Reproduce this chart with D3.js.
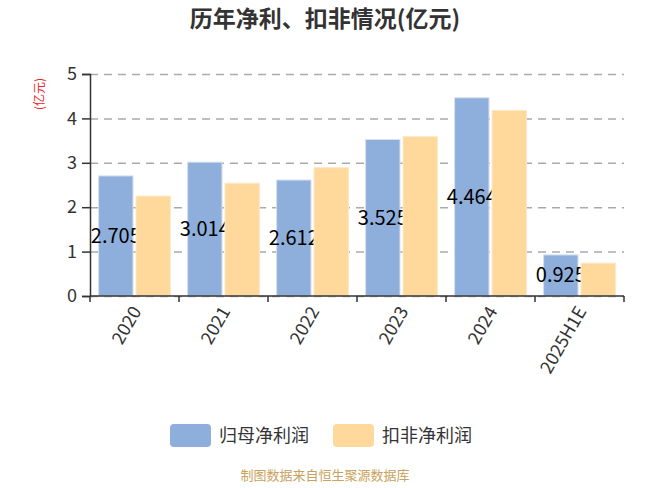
<!DOCTYPE html>
<html>
<head>
<meta charset="utf-8">
<script src="https://cdn.jsdelivr.net/npm/d3@7"></script>
<style>
    html, body { margin: 0; padding: 0; background: #fff; }
    #chart { width: 650px; height: 488px; }
    text { font-family: "Noto Sans CJK SC", "Noto Sans", sans-serif; }
</style>
</head>
<body>
<div id="chart"></div>
<script>
(function () {
    'use strict';

    // Annual net profit vs. deducted net profit (亿元)
    const categories = ['2020', '2021', '2022', '2023', '2024', '2025H1E'];
    const netProfit = [2.705, 3.014, 2.612, 3.525, 4.464, 0.925];       // 归母净利润
    const deductedProfit = [2.25, 2.54, 2.89, 3.59, 4.18, 0.74];        // 扣非净利润
    const seriesNames = ['归母净利润', '扣非净利润'];
    const yTicks = [0, 1, 2, 3, 4, 5];

    const COLORS = ['#8eaedb', '#fed99b'];
    const W = 650, H = 488;
    const margin = {top: 74, right: 26, bottom: 192, left: 90};
    const cW = W - margin.left - margin.right;
    const cH = H - margin.top - margin.bottom;

    const svg = d3.select('#chart').append('svg').attr('width', W).attr('height', H);

    // Title
    svg.append('text')
        .attr('x', W / 2).attr('y', 27)
        .attr('text-anchor', 'middle')
        .attr('font-size', '23px').attr('font-weight', 'bold').attr('fill', '#333')
        .text('历年净利、扣非情况(亿元)');

    const g = svg.append('g').attr('transform', `translate(${margin.left},${margin.top})`);

    const x = d3.scaleBand().domain(categories).range([0, cW]).paddingInner(0).paddingOuter(0);
    const x1 = d3.scaleBand().domain(seriesNames).range([0, x.bandwidth()])
        .paddingInner(0.08).paddingOuter(0.23);
    const y = d3.scaleLinear().domain([0, 5]).range([cH, 0]);

    // Dashed grid lines
    g.append('g')
        .call(d3.axisLeft(y).tickValues(yTicks).tickSize(-cW).tickFormat(''))
        .call(gg => {
            gg.select('.domain').remove();
            gg.selectAll('line').attr('stroke', '#aaa').attr('stroke-width', 1.5)
                .attr('stroke-dasharray', '8 6');
        });

    const rows = categories.map((c, i) => ({cat: c, vals: [netProfit[i], deductedProfit[i]]}));

    // Blue series first, then its labels, then yellow bars on top (they clip the labels)
    g.selectAll('rect.s0').data(rows).enter().append('rect')
        .attr('class', 's0')
        .attr('x', d => x(d.cat) + x1(seriesNames[0]))
        .attr('y', d => y(d.vals[0]))
        .attr('width', x1.bandwidth())
        .attr('height', d => cH - y(d.vals[0]))
        .attr('fill', COLORS[0]).attr('stroke', '#d6e0ef').attr('stroke-width', 1);

    g.selectAll('text.lbl').data(rows).enter().append('text')
        .attr('class', 'lbl')
        .attr('x', d => x(d.cat) + x1(seriesNames[0]) + x1.bandwidth() / 2)
        .attr('y', d => (y(d.vals[0]) + cH) / 2)
        .attr('dy', '0.35em')
        .attr('text-anchor', 'middle')
        .attr('font-size', '20px').attr('fill', '#000')
        .text(d => d.vals[0].toFixed(3));

    g.selectAll('rect.s1').data(rows).enter().append('rect')
        .attr('class', 's1')
        .attr('x', d => x(d.cat) + x1(seriesNames[1]))
        .attr('y', d => y(d.vals[1]))
        .attr('width', x1.bandwidth())
        .attr('height', d => cH - y(d.vals[1]))
        .attr('fill', COLORS[1]).attr('stroke', '#fbe9c8').attr('stroke-width', 1);

    // Y axis
    g.append('g')
        .call(d3.axisLeft(y).tickValues(yTicks).tickSize(8).tickPadding(5).tickFormat(d3.format('d')))
        .call(gg => {
            gg.select('.domain').attr('stroke', '#333').attr('stroke-width', 1.5);
            gg.selectAll('line').attr('stroke', '#333').attr('stroke-width', 1.5);
            gg.selectAll('text').attr('font-size', '18px').attr('fill', '#333')
                .attr('font-family', '"Noto Sans CJK SC", sans-serif');
        });

    // X axis: ticks at category boundaries
    const xAxisG = g.append('g').attr('transform', `translate(0,${cH})`);
    xAxisG.append('line')
        .attr('x1', 0).attr('x2', cW).attr('y1', 0).attr('y2', 0)
        .attr('stroke', '#333').attr('stroke-width', 1.5);
    const bounds = categories.map(c => x(c)).concat([x.range()[1]]);
    xAxisG.selectAll('line.tk').data(bounds).enter().append('line')
        .attr('class', 'tk')
        .attr('x1', d => d).attr('x2', d => d).attr('y1', 0).attr('y2', 6)
        .attr('stroke', '#333').attr('stroke-width', 1.5);
    xAxisG.selectAll('text').data(categories).enter().append('text')
        .attr('transform', d => `translate(${x(d) + x.bandwidth() / 2 + 2},12) rotate(-60)`)
        .attr('text-anchor', 'end').attr('dy', '0.35em')
        .attr('font-size', '18px').attr('fill', '#333')
        .text(d => d);

    // Y axis name
    svg.append('text')
        .attr('transform', 'translate(44,94) rotate(-90)')
        .attr('text-anchor', 'middle')
        .attr('font-size', '12px').attr('fill', '#e8272b')
        .text('(亿元)');

    // Legend
    const legendItems = [
        {name: seriesNames[0], color: COLORS[0], x: 170},
        {name: seriesNames[1], color: COLORS[1], x: 333}
    ];
    const lg = svg.append('g');
    legendItems.forEach(it => {
        lg.append('rect')
            .attr('x', it.x).attr('y', 424).attr('width', 41).attr('height', 23).attr('rx', 4)
            .attr('fill', it.color);
        lg.append('text')
            .attr('x', it.x + 49).attr('y', 436).attr('dy', '0.35em')
            .attr('font-size', '18px').attr('fill', '#333')
            .text(it.name);
    });

    // Source note
    svg.append('text')
        .attr('x', W / 2).attr('y', 480)
        .attr('text-anchor', 'middle')
        .attr('font-size', '13px').attr('fill', '#c9a25b')
        .text('制图数据来自恒生聚源数据库');
})();
</script>
</body>
</html>
